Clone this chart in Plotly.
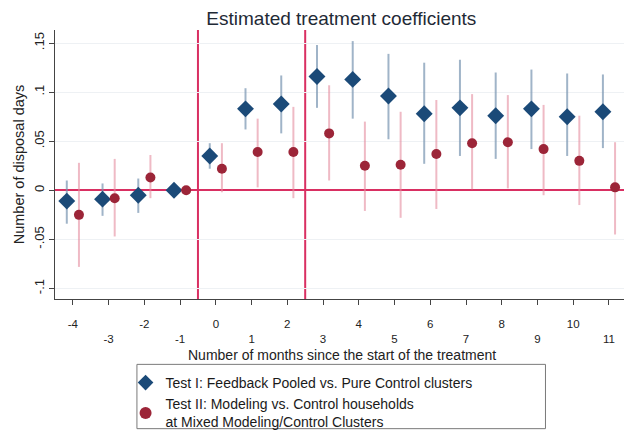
import plotly.graph_objects as go

# Months relative to the start of the treatment
months = list(range(-4, 12))
tick_labels = [str(m) for m in months]

# Test I: Feedback Pooled vs. Pure Control clusters
test1_coef = [-0.011, -0.009, -0.005, 0.000, 0.035, 0.083, 0.088, 0.116,
              0.113, 0.096, 0.078, 0.084, 0.076, 0.083, 0.075, 0.080]
test1_lo = [-0.034, -0.026, -0.023, 0.000, 0.022, 0.062, 0.058, 0.084,
            0.073, 0.052, 0.027, 0.035, 0.032, 0.042, 0.035, 0.043]
test1_hi = [0.010, 0.007, 0.012, 0.000, 0.048, 0.104, 0.117, 0.148,
            0.152, 0.139, 0.130, 0.133, 0.120, 0.123, 0.119, 0.118]

# Test II: Modeling vs. Control households at mixed clusters
test2_coef = [-0.025, -0.008, 0.013, 0.000, 0.022, 0.039, 0.039, 0.058,
              0.025, 0.026, 0.037, 0.048, 0.049, 0.042, 0.030, 0.003]
test2_lo = [-0.078, -0.047, -0.008, 0.000, -0.002, 0.003, -0.008, 0.010,
            -0.021, -0.028, -0.019, 0.001, 0.002, -0.005, -0.015, -0.045]
test2_hi = [0.028, 0.032, 0.036, 0.000, 0.048, 0.073, 0.085, 0.107,
            0.070, 0.080, 0.092, 0.098, 0.097, 0.087, 0.076, 0.049]

# Treatment phase boundaries (months)
phase_breaks = [-0.5, 2.5]

y_ticks = [-0.1, -0.05, 0, 0.05, 0.1, 0.15]
y_tick_labels = ["-.1", "-.05", "0", ".05", ".1", ".15"]

FONT = "Liberation Sans, Arial, sans-serif"
NAVY = "#1b4a78"
MAROON = "#9c2538"
REF = "#d92f62"

shift = 0.17
x1 = [m - shift for m in months]
x2 = [m + shift for m in months]

fig = go.Figure()

fig.add_trace(go.Scatter(
    x=x1, y=test1_coef, mode="markers",
    name="Test I: Feedback Pooled vs. Pure Control clusters",
    marker=dict(symbol="diamond", size=13, color=NAVY),
    error_y=dict(type="data", symmetric=False,
                 array=[h - c for h, c in zip(test1_hi, test1_coef)],
                 arrayminus=[c - l for c, l in zip(test1_coef, test1_lo)],
                 color="rgba(120,148,176,0.7)", thickness=2, width=0),
))

fig.add_trace(go.Scatter(
    x=x2, y=test2_coef, mode="markers",
    name="Test II: Modeling vs. Control households<br>at Mixed Modeling/Control Clusters",
    marker=dict(symbol="circle", size=10, color=MAROON),
    error_y=dict(type="data", symmetric=False,
                 array=[h - c for h, c in zip(test2_hi, test2_coef)],
                 arrayminus=[c - l for c, l in zip(test2_coef, test2_lo)],
                 color="rgba(228,140,158,0.6)", thickness=2, width=0),
))

shapes = []
for xb in phase_breaks:
    shapes.append(dict(type="line", xref="x", yref="y domain", x0=xb, x1=xb,
                       y0=0, y1=1, line=dict(color=REF, width=2), layer="below"))
# legend frame
shapes.append(dict(type="rect", xref="paper", yref="paper",
                   x0=0.144, x1=0.862, y0=-0.482, y1=-0.243,
                   line=dict(color="#7a7a7a", width=1), fillcolor="rgba(0,0,0,0)",
                   layer="above"))

# alternate tick labels on two rows
ticktext = [lab if i % 2 == 0 else " <br>" + lab for i, lab in enumerate(tick_labels)]

fig.update_layout(
    width=624, height=438,
    margin=dict(l=55, r=0, t=30, b=134),
    paper_bgcolor="white", plot_bgcolor="white",
    font=dict(family=FONT, size=13, color="#222222"),
    title=dict(text="Estimated treatment coefficients", x=0.547, xanchor="center",
               y=0.957, yanchor="middle",
               font=dict(family=FONT, size=19, color="#1f2a36")),
    showlegend=True,
    legend=dict(x=0.124, xanchor="left", y=-0.254, yanchor="top",
                bgcolor="rgba(0,0,0,0)", borderwidth=0,
                font=dict(family=FONT, size=14, color="#1a1a1a"),
                tracegroupgap=0, itemsizing="constant"),
    shapes=shapes,
    annotations=[dict(text="Number of months since the start of the treatment",
                      xref="paper", yref="paper", x=0.504, y=-0.210,
                      xanchor="center", yanchor="middle", showarrow=False,
                      font=dict(family=FONT, size=14, color="#222222"))],
)

fig.update_xaxes(
    range=[-4.5, 11.42], tickvals=months, ticktext=ticktext,
    showline=True, linecolor="#444444", linewidth=1,
    ticks="outside", ticklen=5, tickcolor="#444444",
    ticklabelstandoff=9,
    showgrid=False, zeroline=False,
    tickfont=dict(size=11.5),
)

fig.update_yaxes(
    range=[-0.1107, 0.1633], tickvals=y_ticks, ticktext=y_tick_labels,
    tickangle=-90,
    showline=True, linecolor="#444444", linewidth=1,
    ticks="outside", ticklen=5, tickcolor="#444444",
    showgrid=True, gridcolor="#eef1f4", gridwidth=1,
    zeroline=True, zerolinecolor=REF, zerolinewidth=2,
    tickfont=dict(size=13),
    title=dict(text="Number of disposal days", font=dict(size=14.5), standoff=3),
)

fig.write_html("out.html")
